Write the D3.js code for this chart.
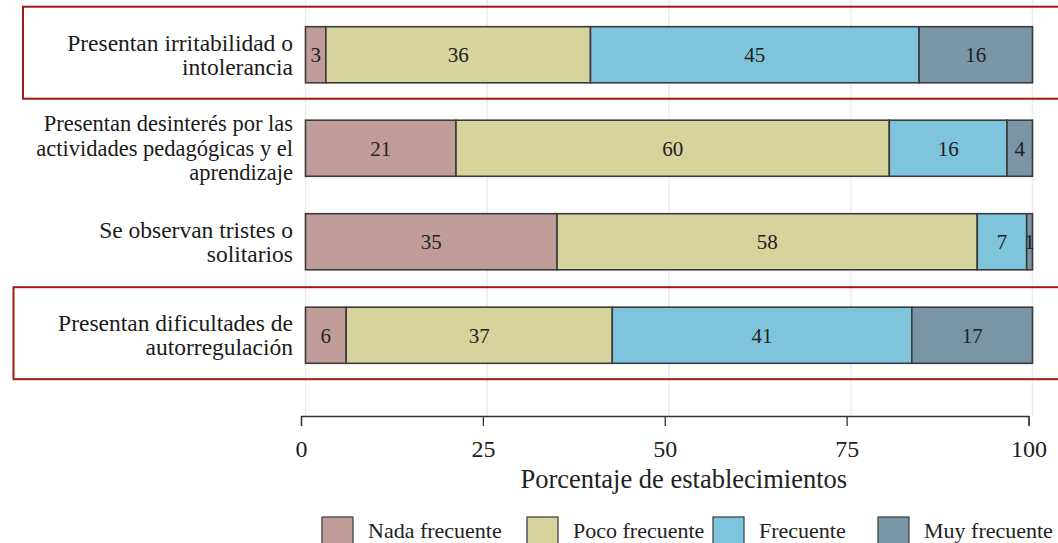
<!DOCTYPE html>
<html>
<head>
<meta charset="utf-8">
<script src="https://cdn.jsdelivr.net/npm/d3@7"></script>
<style>
  body { margin: 0; background: #fff; }
  svg { display: block; font-family: "Liberation Serif", "Times New Roman", "DejaVu Serif", serif; }
</style>
</head>
<body>
<div id="main"></div>
<script>
const width = 1058;
const height = 543;

// data
const categories = [
    ["Presentan irritabilidad o", "intolerancia"],
    ["Presentan desinterés por las", "actividades pedagógicas y el", "aprendizaje"],
    ["Se observan tristes o", "solitarios"],
    ["Presentan dificultades de", "autorregulación"]
];
const seriesNames = ["Nada frecuente", "Poco frecuente", "Frecuente", "Muy frecuente"];
const nada = [2.8, 20.7, 34.6, 5.6];
const poco = [36.4, 59.6, 57.8, 36.6];
const frecuente = [45.2, 16.2, 6.8, 41.2];
const muy = [15.6, 3.5, 0.8, 16.6];
const xTicks = [0, 25, 50, 75, 100];
const highlighted = [0, 3];

const colors = ["#c19d99", "#d7d39d", "#7fc4dd", "#7995a6"];

const rows = categories.map((c, i) => ({
    idx: i,
    label: c,
    Nada: nada[i], Poco: poco[i], Frec: frecuente[i], Muy: muy[i]
}));
const keys = ["Nada", "Poco", "Frec", "Muy"];
const stacked = d3.stack().keys(keys)(rows);

const svg = d3.select("#main")
    .append("svg")
    .attr("width", width)
    .attr("height", height);

// bars and grid use this one, the axis sits a few pixels off in the original
const x = d3.scaleLinear().domain([0, 100]).range([305.5, 1032.5]);
const xAxisScale = d3.scaleLinear().domain([0, 100]).range([301, 1028.5]);
const y = d3.scaleBand()
    .domain(d3.range(categories.length))
    .range([8, 382])
    .paddingInner(0.4)
    .paddingOuter(0.2);

// gridlines
svg.append("g")
    .selectAll("line")
    .data(xTicks)
    .enter()
    .append("line")
    .attr("x1", d => x(d))
    .attr("x2", d => x(d))
    .attr("y1", 0)
    .attr("y2", 416)
    .attr("stroke", "#ececec")
    .attr("stroke-width", 1.5);

// bars
const colorScale = d3.scaleOrdinal().domain(keys).range(colors);
const layers = svg.append("g")
    .selectAll("g")
    .data(stacked)
    .enter()
    .append("g")
    .attr("fill", d => colorScale(d.key));

layers.selectAll("rect")
    .data(d => d)
    .enter()
    .append("rect")
    .attr("x", d => x(d[0]))
    .attr("y", (d, i) => y(i))
    .attr("width", d => x(d[1]) - x(d[0]))
    .attr("height", y.bandwidth())
    .attr("stroke", "#3b3b3b")
    .attr("stroke-width", 1.6);

// value labels
layers.selectAll("text")
    .data(d => d)
    .enter()
    .append("text")
    .attr("x", d => x((d[0] + d[1]) / 2))
    .attr("y", (d, i) => y(i) + y.bandwidth() / 2)
    .attr("dy", "0.35em")
    .attr("text-anchor", "middle")
    .attr("font-size", 21)
    .attr("fill", "#222")
    .text(d => Math.round(d[1] - d[0]));

// category labels, one text per line
rows.forEach(d => {
    const n = d.label.length;
    const lineH = n > 2 ? 24.5 : 24;
    const cy = y(d.idx) + y.bandwidth() / 2;
    svg.append("g")
        .selectAll("text")
        .data(d.label)
        .enter()
        .append("text")
        .attr("x", 293)
        .attr("y", (t, j) => cy + (j - (n - 1) / 2) * lineH)
        .attr("dy", "0.33em")
        .attr("text-anchor", "end")
        .attr("font-size", n > 2 ? 22.5 : 23.5)
        .attr("fill", "#1a1a1a")
        .text(t => t);
});

// highlight boxes
svg.append("g")
    .selectAll("rect")
    .data(highlighted)
    .enter()
    .append("rect")
    .attr("x", d => d === 0 ? 23 : 13.5)
    .attr("y", d => y(d) - 20)
    .attr("width", d => d === 0 ? 1040 : 1050)
    .attr("height", 92)
    .attr("fill", "none")
    .attr("stroke", "#a51616")
    .attr("stroke-width", 2);

// x axis
const xAxis = d3.axisBottom(xAxisScale)
    .tickValues(xTicks)
    .tickSize(10)
    .tickPadding(14)
    .tickSizeOuter(10);

const axisG = svg.append("g")
    .attr("transform", "translate(0,416)")
    .call(xAxis);
axisG.select(".domain").attr("stroke", "#333").attr("stroke-width", 1.3);
axisG.selectAll(".tick line").attr("stroke", "#333").attr("stroke-width", 1.3);
axisG.selectAll(".tick text")
    .attr("font-family", "Liberation Serif, serif")
    .attr("font-size", 24)
    .attr("fill", "#222");

svg.append("text")
    .attr("x", (xAxisScale(0) + xAxisScale(100)) / 2 + 19)
    .attr("y", 479)
    .attr("dy", "0.35em")
    .attr("text-anchor", "middle")
    .attr("font-size", 26.5)
    .attr("fill", "#222")
    .text("Porcentaje de establecimientos");

// legend
const legendX = [322, 527, 713, 878];
const legend = svg.append("g");
const items = legend.selectAll("g")
    .data(seriesNames)
    .enter()
    .append("g")
    .attr("transform", (d, i) => `translate(${legendX[i]},517)`);
items.append("rect")
    .attr("width", 31)
    .attr("height", 28)
    .attr("fill", (d, i) => colors[i])
    .attr("stroke", "#444")
    .attr("stroke-width", 1.3);
items.append("text")
    .attr("x", 46)
    .attr("y", 13)
    .attr("dy", "0.35em")
    .attr("font-size", 22)
    .attr("fill", "#222")
    .text(d => d);
</script>
</body>
</html>
